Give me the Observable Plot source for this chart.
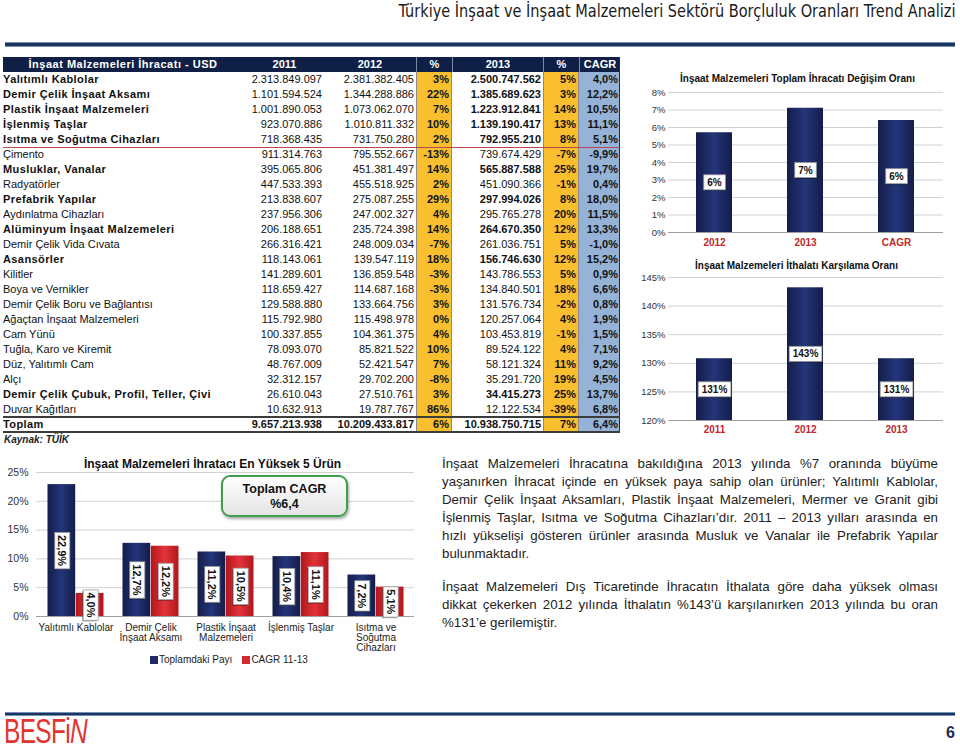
<!DOCTYPE html>
<html lang="tr">
<head>
<meta charset="utf-8">
<script src="https://cdn.jsdelivr.net/npm/d3@7"></script>
<script src="https://cdn.jsdelivr.net/npm/@observablehq/plot@0.6"></script>
<style>
html,body{margin:0;padding:0;background:#fff}
body{width:960px;height:753px;position:relative;overflow:hidden;font-family:"Liberation Sans",Arial,Helvetica,sans-serif;color:#1a1a1a}
.abs{position:absolute}
#pageTitle{position:absolute;right:5px;top:0;font-family:"Liberation Sans Narrow","Arial Narrow","DejaVu Sans Condensed","Liberation Sans",sans-serif;font-size:18px;line-height:21px;color:#1a1a1a;white-space:nowrap;transform-origin:right center}
.rule{position:absolute;left:5px;width:950px;background:#1c355e;border-top:1px solid #7391b8;border-bottom:1px solid #7391b8}
#topRule{top:42px;height:3px}
#botRule{top:712px;height:2px}
#tbl{position:absolute;left:3px;top:57px;width:617px;font-size:11px;color:#111}
#tbl::after{content:"";position:absolute;right:0;top:0;bottom:0;width:1.5px;background:#2a2a2a}
.row{display:flex;height:15px;line-height:15px;position:relative}
.cell{box-sizing:border-box;white-space:nowrap;overflow:hidden;padding:0 2px;flex:none;text-align:right}
.c0{width:242px;text-align:left;padding-left:0}
.c1{width:79px}.c2{width:92px}.c3{width:36px}.c4{width:91px}.c5{width:36px}.c6{width:41px}
.c3,.c5{background:#f9bf2f;font-weight:bold;border-left:1px solid #8a8a8a;border-right:1px solid #8a8a8a}
.c6{background:#95b3d7;font-weight:bold}
.hd .cell{background:#0f1f45;color:#fff;font-weight:bold;text-align:center;border:none}
.hd .c0{letter-spacing:0.5px}
.hd .c3,.hd .c4,.hd .c5,.hd .c6{border-left:1px solid #7d8aa8}
.b .c0{font-weight:bold;letter-spacing:0.4px}
.b .c4{font-weight:bold}
.tot .cell{font-weight:bold}
.sep::after{content:"";position:absolute;left:0;right:0;bottom:-1px;height:1.5px;background:#b9474d;z-index:2}
.tot::before{content:"";position:absolute;left:0;right:0;top:-1px;height:2px;background:#3c3c3c;z-index:2}
.tot::after{content:"";position:absolute;left:0;right:0;bottom:-1px;height:2px;background:#3c3c3c;z-index:2}
#source{left:4px;top:434px;font-size:10px;font-weight:bold;font-style:italic;color:#222}
.ctitle{position:absolute;font-weight:bold;text-align:center;color:#111;white-space:nowrap;z-index:3}
#legend{left:140px;top:654px;font-size:10px;color:#222;white-space:nowrap}
#legend .sw{display:inline-block;width:8px;height:8px;margin:0 1px 0 10px;vertical-align:-0.5px}
#cagrBox{left:221px;top:475px;width:127px;height:42px;box-sizing:border-box;border:2px solid #3f9e4d;border-radius:9px;background:linear-gradient(#ffffff,#e4e4e4);box-shadow:1px 2px 3px rgba(0,0,0,0.35);font-weight:bold;font-size:12.5px;text-align:center;line-height:14.5px;padding-top:5px;color:#111;z-index:3}
#para{left:442px;top:455px;width:496px;font-size:13.3px;line-height:17.9px;color:#222}
.jl{white-space:nowrap}
#logo{left:4px;top:711px;font-family:"Liberation Sans Narrow","Liberation Sans",sans-serif;font-size:35px;line-height:40px;color:#e2352f;white-space:nowrap;transform:scaleX(0.7);transform-origin:left top;letter-spacing:-1px}
#pageNo{left:946px;top:724px;font-size:16px;font-weight:bold;color:#1c2c4c}
</style>
</head>
<body>
<svg width="0" height="0" style="position:absolute">
  <defs>
    <linearGradient id="gNavy" x1="0" x2="1" y1="0" y2="0">
      <stop offset="0" stop-color="#141d49"/>
      <stop offset="0.5" stop-color="#24357a"/>
      <stop offset="1" stop-color="#141d49"/>
    </linearGradient>
    <linearGradient id="gRed" x1="0" x2="1" y1="0" y2="0">
      <stop offset="0" stop-color="#b3161d"/>
      <stop offset="0.5" stop-color="#e1343a"/>
      <stop offset="1" stop-color="#b3161d"/>
    </linearGradient>
  </defs>
</svg>
<div id="pageTitle">Türkiye İnşaat ve İnşaat Malzemeleri Sektörü Borçluluk Oranları Trend Analizi</div>
<div id="topRule" class="rule"></div>
<div id="tbl"></div>
<div id="source" class="abs">Kaynak: TÜİK</div>
<div id="para" class="abs"></div>
<div id="botRule" class="rule"></div>
<div id="logo" class="abs">BESFi<span style="font-style:italic">N</span></div>
<div id="pageNo" class="abs">6</div>
<script>
// ---------------- DATA ----------------
const tableHeader = ["İnşaat Malzemeleri İhracatı - USD", "2011", "2012", "%", "2013", "%", "CAGR"];
const products = ["Yalıtımlı Kablolar", "Demir Çelik İnşaat Aksamı", "Plastik İnşaat Malzemeleri", "İşlenmiş Taşlar", "Isıtma ve Soğutma Cihazları", "Çimento", "Musluklar, Vanalar", "Radyatörler", "Prefabrik Yapılar", "Aydınlatma Cihazları", "Alüminyum İnşaat Malzemeleri", "Demir Çelik Vida Cıvata", "Asansörler", "Kilitler", "Boya ve Vernikler", "Demir Çelik Boru ve Bağlantısı", "Ağaçtan İnşaat Malzemeleri", "Cam Yünü", "Tuğla, Karo ve Kiremit", "Düz, Yalıtımlı Cam", "Alçı", "Demir Çelik Çubuk, Profil, Teller, Çivi", "Duvar Kağıtları"];
const export2011 = [2313849097, 1101594524, 1001890053, 923070886, 718368435, 911314763, 395065806, 447533393, 213838607, 237956306, 206188651, 266316421, 118143061, 141289601, 118659427, 129588880, 115792980, 100337855, 78093070, 48767009, 32312157, 26610043, 10632913];
const export2012 = [2381382405, 1344288886, 1073062070, 1010811332, 731750280, 795552667, 451381497, 455518925, 275087255, 247002327, 235724398, 248009034, 139547119, 136859548, 114687168, 133664756, 115498978, 104361375, 85821522, 52421547, 29702200, 27510761, 19787767];
const change2012 = [3, 22, 7, 10, 2, -13, 14, 2, 29, 4, 14, -7, 18, -3, -3, 3, 0, 4, 10, 7, -8, 3, 86];
const export2013 = [2500747562, 1385689623, 1223912841, 1139190417, 792955210, 739674429, 565887588, 451090366, 297994026, 295765278, 264670350, 261036751, 156746630, 143786553, 134840501, 131576734, 120257064, 103453819, 89524122, 58121324, 35291720, 34415273, 12122534];
const change2013 = [5, 3, 14, 13, 8, -7, 25, -1, 8, 20, 12, 5, 12, 5, 18, -2, 4, -1, 4, 11, 19, 25, -39];
const cagrByProduct = [4.0, 12.2, 10.5, 11.1, 5.1, -9.9, 19.7, 0.4, 18.0, 11.5, 13.3, -1.0, 15.2, 0.9, 6.6, 0.8, 1.9, 1.5, 7.1, 9.2, 4.5, 13.7, 6.8];
const highlighted = [1, 1, 1, 1, 1, 0, 1, 0, 1, 0, 1, 0, 1, 0, 0, 0, 0, 0, 0, 0, 0, 1, 0];
const totalLabel = "Toplam";
const totalRow = [9657213938, 10209433817, 6, 10938750715, 7, 6.4];

const growthCategories = ["2012", "2013", "CAGR"];
const growthRates = [5.7, 7.1, 6.4];
const growthTitle = "İnşaat Malzemeleri Toplam İhracatı Değişim Oranı";

const coverageYears = ["2011", "2012", "2013"];
const coverageRates = [130.8, 143.2, 130.8];
const coverageTitle = "İnşaat Malzemeleri İthalatı Karşılama Oranı";

const topProducts = ["Yalıtımlı Kablolar", "Demir Çelik\nİnşaat Aksamı", "Plastik İnşaat\nMalzemeleri", "İşlenmiş Taşlar", "Isıtma ve\nSoğutma\nCihazları"];
const shareOfTotal = [22.9, 12.7, 11.2, 10.4, 7.2];
const cagr1113 = [4.0, 12.2, 10.5, 11.1, 5.1];
const topSeries = ["Toplamdaki Payı", "CAGR 11-13"];
const topTitle = "İnşaat Malzemeleri İhratacı En Yüksek 5 Ürün";
const cagrBoxTitle = "Toplam CAGR";

const paragraph1 = [
  "İnşaat Malzemeleri İhracatına bakıldığına 2013 yılında %7 oranında büyüme",
  "yaşanırken İhracat içinde en yüksek paya sahip olan ürünler; Yalıtımlı Kablolar,",
  "Demir Çelik İnşaat Aksamları, Plastik İnşaat Malzemeleri, Mermer ve Granit gibi",
  "İşlenmiş Taşlar, Isıtma ve Soğutma Cihazları’dır. 2011 – 2013 yılları arasında en",
  "hızlı yükselişi gösteren ürünler arasında Musluk ve Vanalar ile Prefabrik Yapılar",
  "bulunmaktadır."
];
const paragraph2 = [
  "İnşaat Malzemeleri Dış Ticaretinde İhracatın İthalata göre daha yüksek olması",
  "dikkat çekerken 2012 yılında İthalatın %143’ü karşılanırken 2013 yılında bu oran",
  "%131’e gerilemiştir."
];

// ---------------- HELPERS ----------------
const trLocale = d3.formatLocale({decimal: ",", thousands: ".", grouping: [3], currency: ["", ""], minus: "-"});
const fmtInt = trLocale.format(",d");
const fmt1 = trLocale.format(".1f");
const NS = "http://www.w3.org/2000/svg";
const NAVY = "#1d2b64", RED = "#d42a30";

// ---------------- HEADER FIT ----------------
(function () {
  const t = document.getElementById("pageTitle");
  const w = t.getBoundingClientRect().width;
  t.style.transform = `scaleX(${557 / w})`;
})();

// ---------------- TABLE ----------------
(function () {
  const tbl = document.getElementById("tbl");
  let html = '<div class="row hd">' + tableHeader.map((h, i) => `<div class="cell c${i}">${h}</div>`).join("") + "</div>";
  products.forEach((p, i) => {
    const cls = ["row"];
    if (highlighted[i]) cls.push("b");
    if (i === 4) cls.push("sep");
    html += `<div class="${cls.join(" ")}">` +
      `<div class="cell c0">${p}</div>` +
      `<div class="cell c1">${fmtInt(export2011[i])}</div>` +
      `<div class="cell c2">${fmtInt(export2012[i])}</div>` +
      `<div class="cell c3">${change2012[i]}%</div>` +
      `<div class="cell c4">${fmtInt(export2013[i])}</div>` +
      `<div class="cell c5">${change2013[i]}%</div>` +
      `<div class="cell c6">${fmt1(cagrByProduct[i])}%</div>` +
      "</div>";
  });
  html += '<div class="row tot b">' +
    `<div class="cell c0">${totalLabel}</div>` +
    `<div class="cell c1">${fmtInt(totalRow[0])}</div>` +
    `<div class="cell c2">${fmtInt(totalRow[1])}</div>` +
    `<div class="cell c3">${totalRow[2]}%</div>` +
    `<div class="cell c4">${fmtInt(totalRow[3])}</div>` +
    `<div class="cell c5">${totalRow[4]}%</div>` +
    `<div class="cell c6">${fmt1(totalRow[5])}%</div>` +
    "</div>";
  tbl.innerHTML = html;
})();

// ---------------- PARAGRAPHS ----------------
(function () {
  const para = document.getElementById("para");
  const mk = (lines, gapTop) => {
    const p = document.createElement("div");
    if (gapTop) p.style.marginTop = gapTop + "px";
    lines.forEach((l, i) => {
      const d = document.createElement("div");
      d.className = "jl";
      const s = document.createElement("span");
      s.textContent = l;
      d.appendChild(s);
      d.dataset.last = i === lines.length - 1 ? "1" : "0";
      p.appendChild(d);
    });
    para.appendChild(p);
  };
  mk(paragraph1, 0);
  mk(paragraph2, 15.5);
  para.querySelectorAll(".jl").forEach(d => {
    if (d.dataset.last === "1") return;
    const s = d.firstChild;
    const w = s.getBoundingClientRect().width;
    const n = (s.textContent.match(/ /g) || []).length;
    if (n) d.style.wordSpacing = ((496 - w) / n) + "px";
  });
})();

// ---------------- CHART HELPERS ----------------
function chartStyle(size) {
  return {fontFamily: "Liberation Sans, Arial, sans-serif", fontSize: size, color: "#333", background: "none", overflow: "visible"};
}
function mount(chart, left, top) {
  const d = document.createElement("div");
  d.className = "abs";
  d.style.left = left + "px";
  d.style.top = top + "px";
  d.appendChild(chart);
  document.body.appendChild(d);
  return chart;
}
function addTitle(text, left, top, width, size) {
  const d = document.createElement("div");
  d.className = "ctitle";
  d.style.left = left + "px";
  d.style.top = top + "px";
  d.style.width = width + "px";
  d.style.fontSize = size + "px";
  d.textContent = text;
  document.body.appendChild(d);
}
function boxLabels(svg, padX, padY) {
  svg.querySelectorAll('g[aria-label="text"] text').forEach(t => {
    const b = t.getBBox();
    const tr = t.getAttribute("transform");
    const mk = (dx, dy, fill, stroke) => {
      const r = document.createElementNS(NS, "rect");
      r.setAttribute("x", b.x - padX + dx);
      r.setAttribute("y", b.y - padY + dy);
      r.setAttribute("width", b.width + 2 * padX);
      r.setAttribute("height", b.height + 2 * padY);
      r.setAttribute("fill", fill);
      if (stroke) { r.setAttribute("stroke", stroke); r.setAttribute("stroke-width", 0.8); }
      if (tr) r.setAttribute("transform", tr);
      t.parentNode.insertBefore(r, t);
    };
    mk(1.2, 1.2, "rgba(0,0,0,0.35)");
    mk(0, 0, "#ffffff", "#9c9c9c");
  });
}

// ---------------- CHART 1: growth ----------------
(function () {
  const data = growthCategories.map((k, i) => ({k, v: growthRates[i]}));
  const chart = Plot.plot({
    width: 320, height: 165, marginTop: 7, marginRight: 17, marginBottom: 18, marginLeft: 28,
    style: chartStyle("9.5px"),
    x: {domain: growthCategories, paddingInner: 0.6, paddingOuter: 0.3, label: null},
    y: {domain: [0, 8], label: null},
    marks: [
      Plot.gridY(d3.range(0, 9), {stroke: "#d2d2d2", strokeOpacity: 1}),
      Plot.barY(data, {x: "k", y: "v", fill: "url(#gNavy)"}),
      Plot.ruleY([0], {stroke: "#a0a0a0"}),
      Plot.axisY(d3.range(0, 9), {tickSize: 0, tickPadding: 3, tickFormat: d => d + "%"}),
      Plot.axisX({tickSize: 0, tickPadding: 6, fill: "#c1272d", fontWeight: "bold", fontSize: 10}),
      Plot.text(data, {x: "k", y: d => d.v / 2, text: d => Math.round(d.v) + "%", fontWeight: "bold", fontSize: 10, fill: "#111"})
    ]
  });
  mount(chart, 640, 85);
  boxLabels(chart, 3.5, 2);
  addTitle(growthTitle, 640, 73, 315, 10);
})();

// ---------------- CHART 2: coverage ----------------
(function () {
  const data = coverageYears.map((k, i) => ({k, v: coverageRates[i]}));
  const chart = Plot.plot({
    width: 320, height: 165, marginTop: 5, marginRight: 17, marginBottom: 17, marginLeft: 28,
    style: chartStyle("9.5px"),
    x: {domain: coverageYears, paddingInner: 0.6, paddingOuter: 0.3, label: null},
    y: {domain: [120, 145], label: null},
    marks: [
      Plot.gridY(d3.range(120, 146, 5), {stroke: "#d2d2d2", strokeOpacity: 1}),
      Plot.barY(data, {x: "k", y1: 120, y2: "v", fill: "url(#gNavy)"}),
      Plot.ruleY([120], {stroke: "#a0a0a0"}),
      Plot.axisY(d3.range(120, 146, 5), {tickSize: 0, tickPadding: 3, tickFormat: d => d + "%"}),
      Plot.axisX({tickSize: 0, tickPadding: 5, fill: "#c1272d", fontWeight: "bold", fontSize: 10}),
      Plot.text(data, {x: "k", y: d => (120 + d.v) / 2, text: d => Math.round(d.v) + "%", fontWeight: "bold", fontSize: 10, fill: "#111"})
    ]
  });
  mount(chart, 640, 272);
  boxLabels(chart, 3.5, 2);
  addTitle(coverageTitle, 640, 260, 313, 10);
})();

// ---------------- CHART 3: top 5 products ----------------
(function () {
  const data = topProducts.map((k, i) => ({k, share: shareOfTotal[i], cagr: cagr1113[i]}));
  const chart = Plot.plot({
    width: 420, height: 200, marginTop: 10, marginRight: 6, marginBottom: 46, marginLeft: 36,
    style: chartStyle("10.5px"),
    x: {domain: topProducts, padding: 0, label: null},
    y: {domain: [0, 25], label: null},
    marks: [
      Plot.gridY(d3.range(0, 26, 5), {stroke: "#d2d2d2", strokeOpacity: 1}),
      Plot.barY(data, {x: "k", y: "share", fill: "url(#gNavy)", insetLeft: 9.5, insetRight: 37.8}),
      Plot.barY(data, {x: "k", y: "cagr", fill: "url(#gRed)", insetLeft: 37.8, insetRight: 9.5}),
      Plot.ruleY([0], {stroke: "#a0a0a0"}),
      Plot.axisY(d3.range(0, 26, 5), {tickSize: 0, tickPadding: 8, tickFormat: d => d + "%"}),
      Plot.axisX({tickSize: 0, tickPadding: 7, fill: "#222", fontSize: 10}),
      Plot.text(data, {x: "k", y: d => d.share / 2, dx: -14.2, rotate: 90, text: d => fmt1(d.share) + "%", fontWeight: "bold", fontSize: 11, fill: "#111"}),
      Plot.text(data, {x: "k", y: d => d.cagr / 2, dx: 14.2, rotate: 90, text: d => fmt1(d.cagr) + "%", fontWeight: "bold", fontSize: 11, fill: "#111"})
    ]
  });
  mount(chart, 0, 462);
  boxLabels(chart, 2.5, 1.5);
  addTitle(topTitle, 60, 457, 305, 12);

  const box = document.createElement("div");
  box.id = "cagrBox"; box.className = "abs";
  box.innerHTML = `${cagrBoxTitle}<br>%${fmt1(totalRow[5])}`;
  document.body.appendChild(box);

  const lg = document.createElement("div");
  lg.id = "legend"; lg.className = "abs";
  const cols = [NAVY, RED];
  lg.innerHTML = topSeries.map((s, i) => `<span class="sw" style="background:${cols[i]}"></span>${s}`).join("");
  document.body.appendChild(lg);
})();
</script>
</body>
</html>
